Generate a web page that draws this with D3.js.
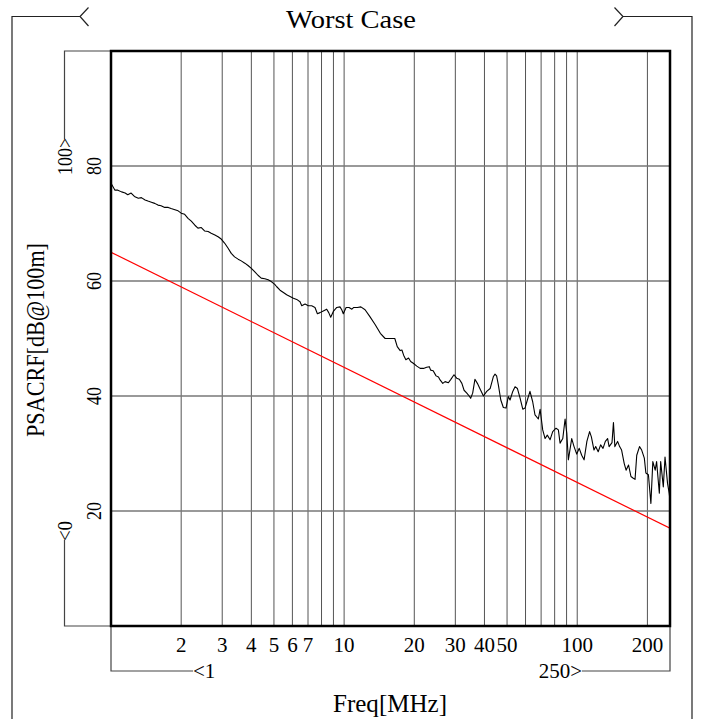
<!DOCTYPE html>
<html>
<head>
<meta charset="utf-8">
<script src="https://cdn.jsdelivr.net/npm/d3@7"></script>
<style>
  html, body { margin: 0; padding: 0; background: #fff; }
  svg { display: block; }
  text { font-family: "Liberation Serif", "DejaVu Serif", serif; fill: #000; }
</style>
</head>
<body>
<svg id="chart" width="701" height="719"></svg>
<script>
// Measured PSACRF worst-case curve (dB @ 100 m) against frequency in MHz
const freqMHz = [
  1.00, 1.04, 1.07, 1.11, 1.15, 1.18, 1.22, 1.26, 1.31, 1.35,
  1.40, 1.44, 1.49, 1.54, 1.59, 1.64, 1.70, 1.76, 1.81, 1.88,
  1.94, 2.00, 2.07, 2.14, 2.21, 2.29, 2.36, 2.44, 2.52, 2.61,
  2.69, 2.79, 2.88, 2.97, 3.07, 3.18, 3.28, 3.39, 3.51, 3.62,
  3.75, 3.87, 4.00, 4.14, 4.27, 4.41, 4.57, 4.72, 4.87, 5.04,
  5.14, 5.31, 5.49, 5.67, 5.86, 6.06, 6.26, 6.47, 6.58, 6.80,
  7.02, 7.26, 7.50, 7.68, 7.88, 8.14, 8.42, 8.59, 8.76, 8.99,
  9.30, 9.60, 9.77, 9.92, 10.2, 10.5, 10.8, 11.0, 11.4, 11.8,
  12.3, 12.9, 13.6, 14.3, 15.0, 15.7, 16.5, 16.9, 17.4, 17.7,
  18.0, 18.4, 18.9, 19.3, 19.8, 20.5, 21.2, 21.9, 22.6, 23.2,
  23.5, 24.1, 24.8, 25.4, 25.8, 26.5, 27.1, 28.0, 28.7, 29.6,
  30.4, 31.2, 32.0, 32.7, 33.6, 34.4, 34.9, 35.6, 36.4, 37.3,
  38.3, 39.6, 40.9, 42.3, 43.7, 44.4, 45.1, 45.9, 47.0, 48.2,
  49.5, 50.6, 51.5, 52.9, 54.1, 55.4, 56.9, 58.4, 59.7, 61.1,
  62.7, 64.4, 65.9, 68.1, 69.3, 71.1, 72.8, 74.4, 76.5, 78.5,
  81.1, 83.0, 84.4, 86.7, 88.7, 90.2, 91.6, 94.7, 96.9, 99.5,
  102, 104.5, 107, 110, 113, 115, 118, 120, 123, 126,
  129, 132, 135, 137, 141, 143, 145, 149, 152, 155,
  159, 162, 166, 170, 174, 177, 180, 185, 189, 194,
  197, 202, 207, 211, 216, 219, 225, 228, 234, 238,
  244, 248, 250
];
const psacrfDb = [
  77.0, 75.8, 75.8, 75.5, 75.3, 75.0, 75.3, 74.7, 74.4, 74.5,
  74.1, 73.9, 73.7, 73.5, 73.2, 73.1, 72.8, 72.8, 72.6, 72.4,
  72.2, 71.8, 71.6, 70.9, 70.4, 69.7, 69.2, 69.3, 68.7, 68.6,
  68.3, 68.0, 67.7, 67.3, 66.6, 65.7, 64.8, 64.2, 63.8, 63.5,
  63.1, 62.7, 62.2, 61.6, 61.0, 60.5, 60.4, 60.2, 59.9, 59.4,
  59.0, 58.4, 58.0, 57.6, 57.3, 57.0, 56.8, 56.4, 55.7, 56.0,
  55.7, 55.7, 55.4, 54.3, 54.5, 54.8, 55.1, 54.5, 53.7, 54.7,
  55.4, 55.5, 55.0, 54.3, 55.4, 55.4, 55.1, 55.4, 55.4, 55.5,
  55.0, 53.8, 52.4, 50.9, 50.0, 50.0, 50.0, 48.6, 47.9, 48.0,
  47.1, 46.3, 46.6, 46.0, 45.7, 45.2, 44.8, 44.8, 45.0, 45.1,
  44.5, 44.4, 43.5, 43.3, 42.8, 42.2, 42.5, 42.3, 42.9, 43.7,
  43.1, 42.9, 42.2, 41.0, 40.5, 40.0, 39.6, 40.5, 42.9, 42.2,
  41.2, 40.0, 40.8, 41.3, 43.4, 43.8, 43.5, 41.9, 39.3, 38.0,
  37.9, 39.9, 39.3, 40.8, 41.6, 41.3, 39.6, 37.7, 37.9, 39.3,
  40.8, 39.0, 36.7, 36.0, 37.7, 34.1, 32.6, 33.2, 32.4, 33.8,
  34.4, 34.1, 31.8, 32.6, 36.0, 33.5, 28.9, 32.6, 31.2, 29.9,
  30.9, 29.7, 28.9, 32.1, 33.8, 32.9, 30.6, 31.2, 30.3, 31.5,
  30.9, 32.1, 32.6, 31.2, 31.9, 35.4, 31.2, 32.1, 31.2, 30.6,
  28.3, 27.1, 28.0, 26.0, 25.7, 25.5, 29.7, 31.2, 30.6, 29.2,
  26.6, 26.3, 21.3, 28.6, 27.1, 28.6, 23.1, 28.6, 24.2, 29.4,
  24.8, 23.1, 21.9
];

// Limit line endpoints (straight on the log-frequency axis)
const limitFreq = [1, 250];
const limitDb = [65, 17];

// Axis extents, grid and tick labels
const freqDomain = [1, 250];
const dbDomain = [0, 100];
const gridFreqs = [2, 3, 4, 5, 6, 7, 8, 9, 10, 20, 30, 40, 50, 60, 70, 80, 90, 100, 200];
const freqTickLabels = [2, 3, 4, 5, 6, 7, 10, 20, 30, 40, 50, 100, 200];
const dbTicks = [20, 40, 60, 80];

const titleText = "Worst Case";
const xTitle = "Freq[MHz]";
const yTitle = "PSACRF[dB@100m]";

const svg = d3.select("#chart");
const plotL = 111, plotR = 670, plotT = 51, plotB = 626;

const x = d3.scaleLog().domain(freqDomain).range([plotL, plotR]);
const y = d3.scaleLinear().domain(dbDomain).range([plotB, plotT]);

svg.append("rect").attr("width", 701).attr("height", 719).attr("fill", "#fff");

// Outer frame with bracket arrows around the title
const frame = svg.append("g").attr("fill", "none").attr("stroke", "#222").attr("stroke-width", 1.2);
frame.append("path").attr("d", "M12,719 V16.5 H80");
frame.append("path").attr("d", "M88.5,7.5 L80,16.5 L88.5,26");
frame.append("path").attr("d", "M692,719 V16.5 H623");
frame.append("path").attr("d", "M614.5,7.5 L623,16.5 L614.5,26");

svg.append("text")
  .attr("x", 351).attr("y", 28)
  .attr("text-anchor", "middle")
  .attr("font-size", 26)
  .attr("textLength", 130).attr("lengthAdjust", "spacingAndGlyphs")
  .text(titleText);

// Range brackets for the y axis (0..100) and x axis (1..250)
const br = svg.append("g").attr("fill", "none").attr("stroke", "#444").attr("stroke-width", 1.2);
br.append("path").attr("d", `M${plotL},${y(100)} H64.5 V139`);
br.append("path").attr("d", `M${plotL},${y(0)} H64.5 V540`);
br.append("path").attr("d", `M${x(1)},${y(0)} V671 H193`);
br.append("path").attr("d", `M${x(250)},${y(0)} V671 H582`);

svg.append("text")
  .attr("transform", "translate(72,138) rotate(-90)")
  .attr("text-anchor", "end").attr("font-size", 20)
  .attr("textLength", 37).attr("lengthAdjust", "spacingAndGlyphs")
  .text("100>");
svg.append("text")
  .attr("transform", "translate(72,541) rotate(-90)")
  .attr("text-anchor", "start").attr("font-size", 20)
  .attr("textLength", 20).attr("lengthAdjust", "spacingAndGlyphs")
  .text("<0");
svg.append("text")
  .attr("x", 193).attr("y", 678).attr("font-size", 21)
  .text("<1");
svg.append("text")
  .attr("x", 582).attr("y", 678).attr("font-size", 21)
  .attr("text-anchor", "end")
  .text("250>");

// Grid
const grid = svg.append("g");
grid.selectAll("line.v").data(gridFreqs).join("line")
  .attr("class", "v")
  .attr("x1", d => x(d)).attr("x2", d => x(d))
  .attr("y1", plotT).attr("y2", plotB)
  .attr("stroke", "#555").attr("stroke-width", 1);
grid.selectAll("line.h").data(dbTicks).join("line")
  .attr("class", "h")
  .attr("x1", plotL).attr("x2", plotR)
  .attr("y1", d => y(d)).attr("y2", d => y(d))
  .attr("stroke", "#777").attr("stroke-width", 1.5);

// Tick labels
svg.append("g").selectAll("text").data(freqTickLabels).join("text")
  .attr("x", d => x(d)).attr("y", 652)
  .attr("text-anchor", "middle").attr("font-size", 21)
  .text(d => d);
svg.append("g").selectAll("text").data(dbTicks).join("text")
  .attr("transform", d => `translate(101,${y(d)}) rotate(-90)`)
  .attr("text-anchor", "middle").attr("font-size", 21)
  .attr("textLength", 18).attr("lengthAdjust", "spacingAndGlyphs")
  .text(d => d);

// Axis titles
svg.append("text")
  .attr("x", 390).attr("y", 712)
  .attr("text-anchor", "middle").attr("font-size", 25)
  .attr("textLength", 114).attr("lengthAdjust", "spacingAndGlyphs")
  .text(xTitle);
svg.append("text")
  .attr("transform", "translate(44,340) rotate(-90)")
  .attr("text-anchor", "middle").attr("font-size", 25)
  .attr("textLength", 194).attr("lengthAdjust", "spacingAndGlyphs")
  .text(yTitle);

// Data lines, clipped to the plot area
svg.append("clipPath").attr("id", "plotClip")
  .append("rect").attr("x", plotL).attr("y", plotT)
  .attr("width", plotR - plotL).attr("height", plotB - plotT);

const line = d3.line().x(d => x(d[0])).y(d => y(d[1]));

svg.append("path")
  .datum(d3.zip(limitFreq, limitDb))
  .attr("clip-path", "url(#plotClip)")
  .attr("fill", "none").attr("stroke", "#ff0000").attr("stroke-width", 1.2)
  .attr("d", line);

svg.append("path")
  .datum(d3.zip(freqMHz, psacrfDb))
  .attr("clip-path", "url(#plotClip)")
  .attr("fill", "none").attr("stroke", "#000").attr("stroke-width", 1.1)
  .attr("stroke-linejoin", "round")
  .attr("d", line);

// Plot border
svg.append("rect")
  .attr("x", plotL).attr("y", plotT)
  .attr("width", plotR - plotL).attr("height", plotB - plotT)
  .attr("fill", "none").attr("stroke", "#000").attr("stroke-width", 2.5);
</script>
</body>
</html>
